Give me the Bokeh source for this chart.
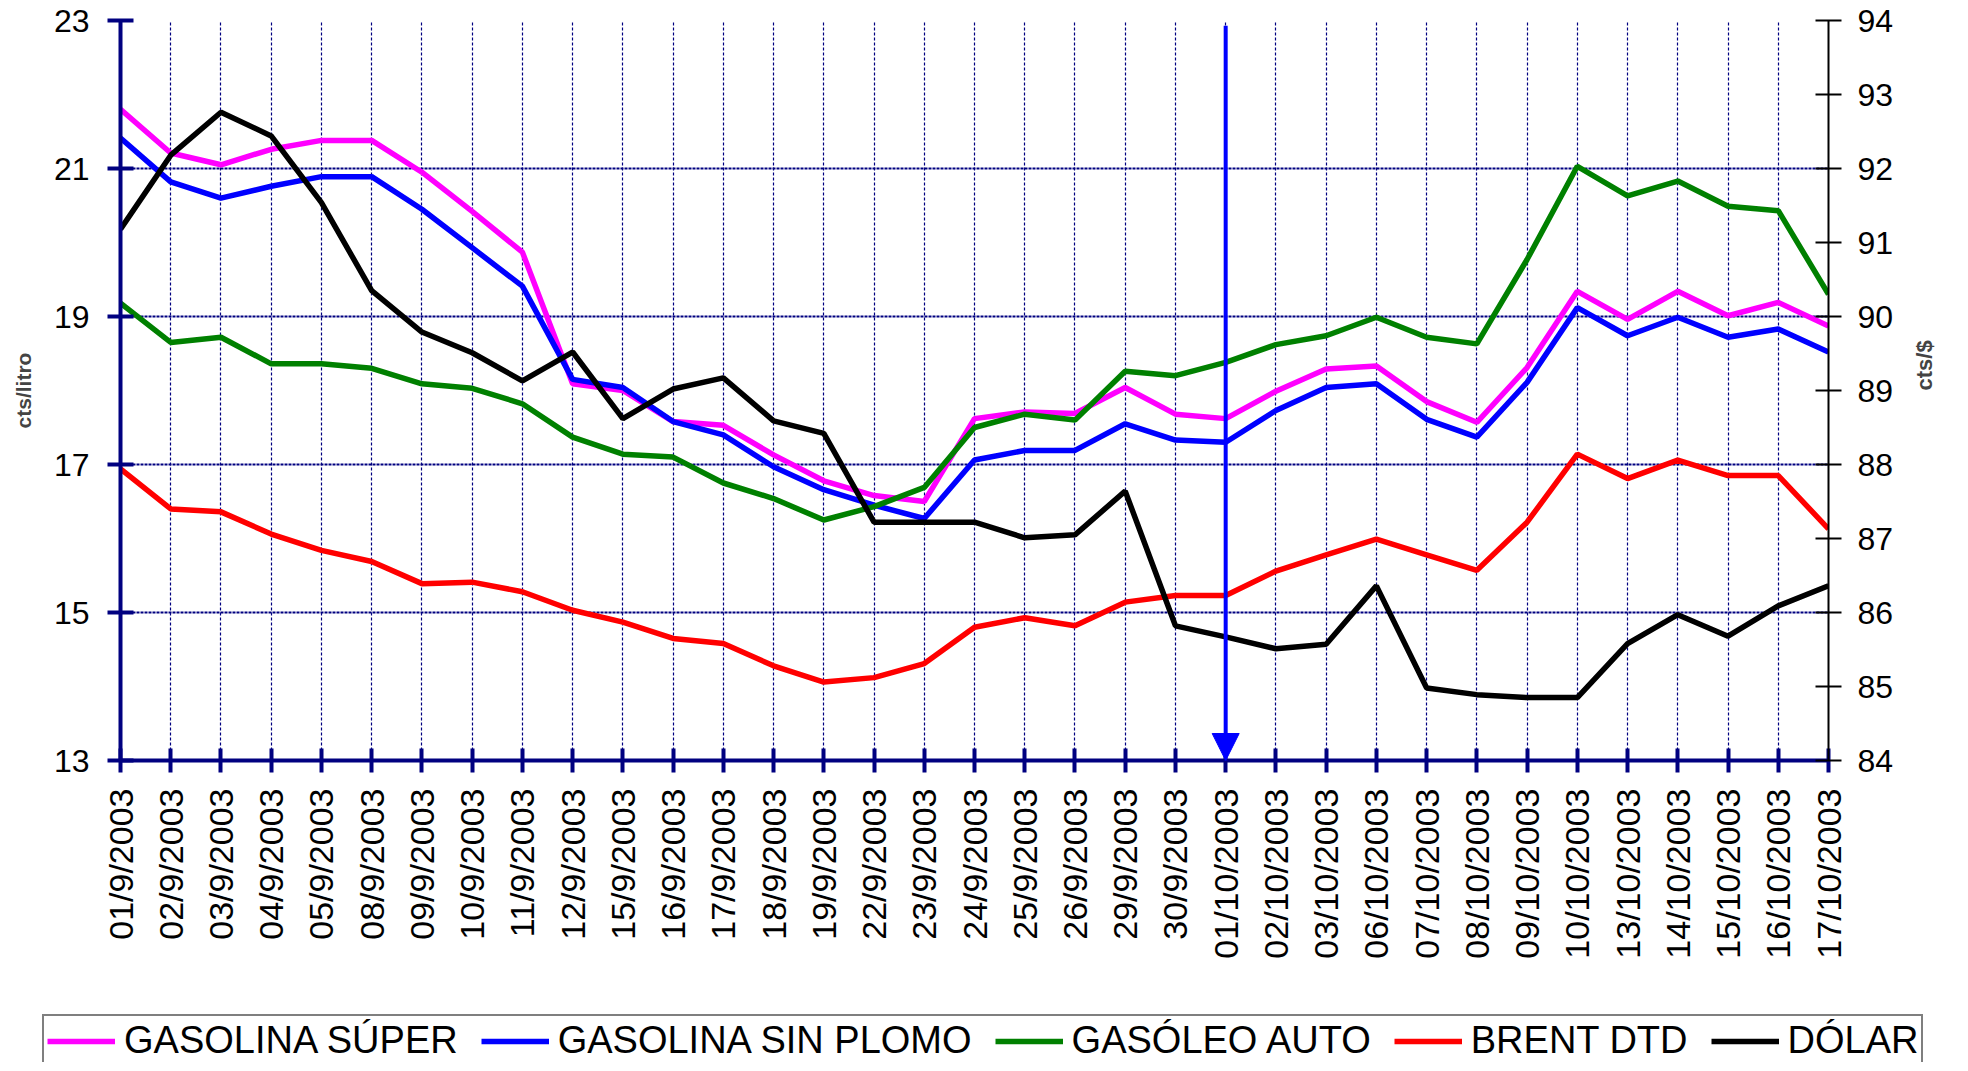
import math
from bokeh.plotting import figure
from bokeh.models import (Range1d, LinearAxis, FixedTicker, Legend, LegendItem,
                          Arrow, NormalHead, ColumnDataSource)
from bokeh.embed import file_html
from bokeh.resources import INLINE

# ---------------- data ----------------
dates = ["01/9/2003", "02/9/2003", "03/9/2003", "04/9/2003", "05/9/2003", "08/9/2003",
         "09/9/2003", "10/9/2003", "11/9/2003", "12/9/2003", "15/9/2003", "16/9/2003",
         "17/9/2003", "18/9/2003", "19/9/2003", "22/9/2003", "23/9/2003", "24/9/2003",
         "25/9/2003", "26/9/2003", "29/9/2003", "30/9/2003", "01/10/2003", "02/10/2003",
         "03/10/2003", "06/10/2003", "07/10/2003", "08/10/2003", "09/10/2003", "10/10/2003",
         "13/10/2003", "14/10/2003", "15/10/2003", "16/10/2003", "17/10/2003"]

gasolina_super = [21.80, 21.21, 21.05, 21.26, 21.38, 21.38, 20.95, 20.42, 19.87, 18.09,
                  18.00, 17.58, 17.53, 17.13, 16.78, 16.58, 16.50, 17.62, 17.71, 17.69,
                  18.04, 17.68, 17.62, 17.99, 18.29, 18.33, 17.85, 17.57, 18.31, 19.34,
                  18.96, 19.34, 19.01, 19.19, 18.87]

gasolina_sin_plomo = [21.41, 20.82, 20.60, 20.76, 20.89, 20.89, 20.45, 19.93, 19.41, 18.15,
                      18.04, 17.58, 17.40, 16.97, 16.66, 16.45, 16.27, 17.06, 17.19, 17.19,
                      17.55, 17.33, 17.30, 17.73, 18.04, 18.09, 17.61, 17.37, 18.11, 19.12,
                      18.74, 18.99, 18.72, 18.83, 18.52]

gasoleo_auto = [19.18, 18.65, 18.72, 18.36, 18.36, 18.30, 18.09, 18.03, 17.82, 17.37,
                17.14, 17.10, 16.75, 16.54, 16.25, 16.43, 16.69, 17.50, 17.68, 17.60,
                18.26, 18.20, 18.38, 18.62, 18.74, 18.99, 18.72, 18.63, 19.77, 21.03,
                20.63, 20.83, 20.49, 20.43, 19.30]

brent_dtd = [16.94, 16.40, 16.36, 16.06, 15.84, 15.69, 15.39, 15.41, 15.28, 15.03,
             14.87, 14.65, 14.58, 14.28, 14.06, 14.12, 14.31, 14.80, 14.93, 14.82,
             15.14, 15.23, 15.23, 15.56, 15.78, 15.99, 15.78, 15.57, 16.22, 17.14,
             16.81, 17.06, 16.85, 16.85, 16.13]

dolar = [91.18, 92.18, 92.76, 92.44, 91.54, 90.35, 89.79, 89.51, 89.13, 89.52,
         88.62, 89.02, 89.17, 88.59, 88.42, 87.22, 87.22, 87.22, 87.01, 87.05,
         87.64, 85.82, 85.67, 85.51, 85.57, 86.36, 84.98, 84.89, 84.85, 84.85,
         85.58, 85.97, 85.68, 86.09, 86.36]

series_names = ["GASOLINA SÚPER", "GASOLINA SIN PLOMO", "GASÓLEO AUTO", "BRENT DTD", "DÓLAR"]
series_cols = ["sup", "sp", "gas", "brent", "usd"]
series_colors = ["#FF00FF", "#0000FF", "#008000", "#FF0000", "#000000"]

left_ticks = [13, 15, 17, 19, 21, 23]
right_ticks = [84, 85, 86, 87, 88, 89, 90, 91, 92, 93, 94]
marker_date = "01/10/2003"
marker_top = 22.93

x = list(range(len(dates)))
src = ColumnDataSource(dict(x=x, sup=gasolina_super, sp=gasolina_sin_plomo,
                            gas=gasoleo_auto, brent=brent_dtd, usd=dolar))

NAVY = "#000080"
FONT = "Liberation Sans"
LW = 5.5

p = figure(width=1952, height=1014, output_backend="svg", toolbar_location=None,
           x_range=Range1d(0, len(dates) - 1),
           y_range=Range1d(left_ticks[0], left_ticks[-1]),
           min_border_left=120, min_border_right=121, min_border_top=20,
           min_border_bottom=254)
p.extra_y_ranges = {"usd": Range1d(right_ticks[0], right_ticks[-1])}
p.outline_line_color = None
p.background_fill_color = "white"
p.border_fill_color = "white"

# grids
p.xgrid.ticker = FixedTicker(ticks=x)
p.xgrid.grid_line_color = NAVY
p.xgrid.grid_line_width = 1.2
p.xgrid.grid_line_dash = "3 2"
p.ygrid.ticker = FixedTicker(ticks=left_ticks)
p.ygrid.grid_line_color = NAVY
p.ygrid.grid_line_width = 2.2
p.ygrid.grid_line_dash = "3 1"

# bottom axis
xa = p.xaxis[0]
xa.ticker = FixedTicker(ticks=x)
xa.major_label_overrides = {i: d for i, d in enumerate(dates)}
xa.major_label_orientation = math.pi / 2
xa.axis_line_color = NAVY
xa.axis_line_width = 4
xa.major_tick_line_color = NAVY
xa.major_tick_line_width = 4
xa.major_tick_in = 12
xa.major_tick_out = 12
xa.minor_tick_line_color = None
xa.major_label_standoff = 16
xa.major_label_text_font = FONT
xa.major_label_text_font_size = "34px"
xa.major_label_text_color = "black"

# left axis
ya = p.yaxis[0]
ya.ticker = FixedTicker(ticks=left_ticks)
ya.axis_line_color = NAVY
ya.axis_line_width = 4
ya.major_tick_line_color = NAVY
ya.major_tick_line_width = 4
ya.major_tick_in = 13
ya.major_tick_out = 13
ya.minor_tick_line_color = None
ya.major_label_standoff = 18
ya.major_label_text_font = FONT
ya.major_label_text_font_size = "32px"
ya.major_label_text_color = "black"
ya.axis_label = "cts/litro"
ya.axis_label_text_font = FONT
ya.axis_label_text_font_style = "bold"
ya.axis_label_text_font_size = "21px"
ya.axis_label_standoff = 16

# right axis
ra = LinearAxis(y_range_name="usd", ticker=FixedTicker(ticks=right_ticks))
ra.axis_line_color = "black"
ra.axis_line_width = 2
ra.major_tick_line_color = "black"
ra.major_tick_line_width = 2
ra.major_tick_in = 13
ra.major_tick_out = 13
ra.minor_tick_line_color = None
ra.major_label_standoff = 16
ra.major_label_text_font = FONT
ra.major_label_text_font_size = "32px"
ra.major_label_text_color = "black"
ra.axis_label = "cts/$"
ra.axis_label_text_font = FONT
ra.axis_label_text_font_style = "bold"
ra.axis_label_text_font_size = "22px"
ra.axis_label_standoff = 28
if "axis_label_orientation" in ra.properties():
    ra.axis_label_orientation = math.pi / 2
p.add_layout(ra, "right")

# series
for col, color in zip(series_cols, series_colors):
    if col == "usd":
        p.line("x", col, source=src, line_color=color, line_width=LW, y_range_name="usd")
    else:
        p.line("x", col, source=src, line_color=color, line_width=LW)

# marker arrow
mx = dates.index(marker_date)
p.add_layout(Arrow(end=NormalHead(size=27, fill_color="#0000FF", line_color="#0000FF"),
                   x_start=mx, y_start=marker_top, x_end=mx, y_end=left_ticks[0],
                   line_color="#0000FF", line_width=4))

# ---------------- legend strip (separate root below the chart) ----------------
lg = figure(width=1952, height=48, output_backend="svg", toolbar_location=None,
            x_range=Range1d(0, len(dates) - 1), y_range=Range1d(-100, -99),
            x_axis_type=None, y_axis_type=None,
            min_border_left=42, min_border_right=0, min_border_top=0, min_border_bottom=0)
lg.outline_line_color = None
lg.xgrid.visible = False
lg.ygrid.visible = False
lg.background_fill_color = "white"
lg.border_fill_color = "white"

items = []
for name, col, color in zip(series_names, series_cols, series_colors):
    # same series, drawn outside this strip's visible range: only the legend key shows
    r = lg.line("x", col, source=src, line_color=color, line_width=LW)
    items.append(LegendItem(label=name, renderers=[r]))

legend = Legend(items=items, orientation="horizontal", location="top_left")
legend.label_text_font = FONT
legend.label_text_font_size = "38px"
legend.label_text_color = "black"
legend.glyph_width = 68
legend.label_standoff = 9
legend.spacing = 23
legend.padding = 3
legend.margin = 0
legend.border_line_color = "black"
legend.border_line_width = 2
legend.background_fill_color = "white"
legend.background_fill_alpha = 1.0
lg.add_layout(legend)

open("out.html", "w").write(file_html([p, lg], INLINE))
